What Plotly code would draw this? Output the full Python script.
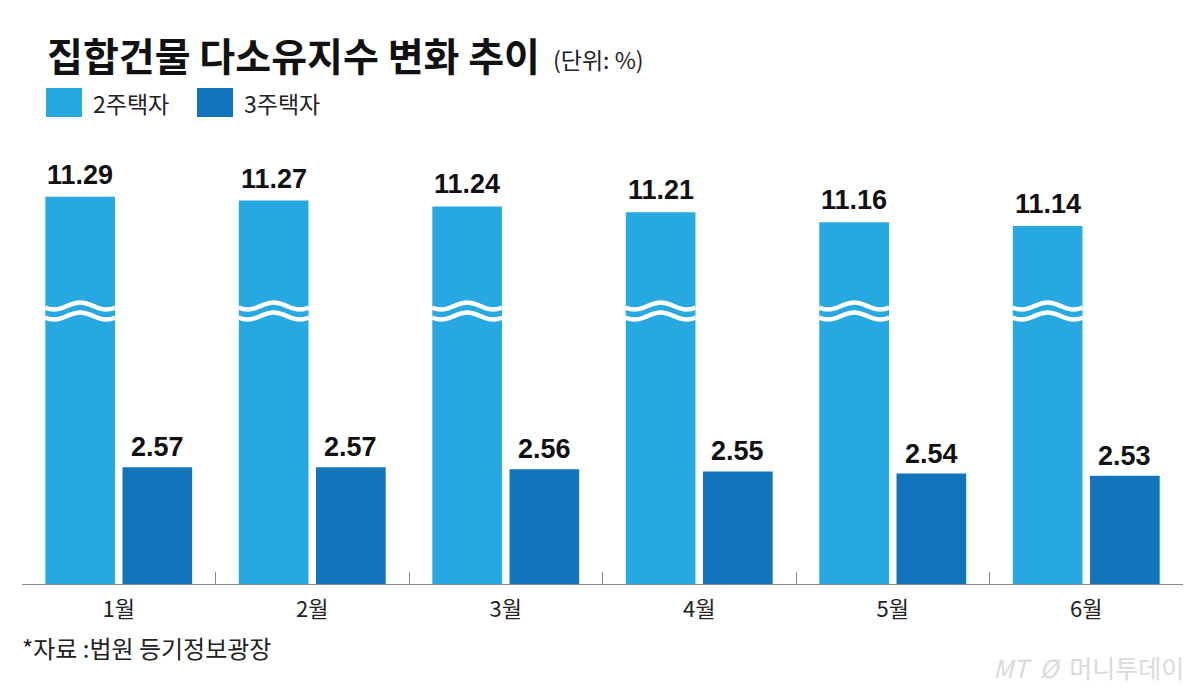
import numpy as np
import plotly.graph_objects as go

# 데이터
months = ["1월", "2월", "3월", "4월", "5월", "6월"]
two_homes = [11.29, 11.27, 11.24, 11.21, 11.16, 11.14]
three_homes = [2.57, 2.57, 2.56, 2.55, 2.54, 2.53]
series_names = ["2주택자", "3주택자"]
colors = ["#27A8E0", "#1275BB"]

title_text = "집합건물 다소유지수 변화 추이"
unit_text = "(단위: %)"
source_text = "*자료 :법원 등기정보광장"

# 캔버스 / 플롯 영역 (화면 픽셀 기준, 페이지 body 여백 8px 보정)
FW, FH = 1200, 694
OFF = 8
PL, PR, PT, PB = 22, 1183, 140, 584  # 화면상 플롯 영역
L = PL - OFF
T = PT - OFF
R = FW - (PR - OFF)
B = FH - (PB - OFF)
W = FW - L - R
H = FH - T - B


def px(x):
    return (x - PL) / W


def py(y):
    return (PB - y) / H


KOR = "Noto Sans CJK KR"
bar_w = 0.36
off_a = -0.3795
off_b = 0.0195

fig = go.Figure()
fig.add_trace(go.Bar(
    x=months, y=two_homes, name=series_names[0], yaxis="y",
    width=bar_w, offset=off_a, marker=dict(color=colors[0], line=dict(width=0)),
    showlegend=False,
))
fig.add_trace(go.Bar(
    x=months, y=three_homes, name=series_names[1], yaxis="y2",
    width=bar_w, offset=off_b, marker=dict(color=colors[1], line=dict(width=0)),
    showlegend=False,
))

annotations = []
# 값 라벨
for i, v in enumerate(two_homes):
    annotations.append(dict(
        x=i + off_a + bar_w / 2, y=v, xref="x", yref="y", text=f"{v:.2f}",
        showarrow=False, yanchor="bottom", yshift=5,
        font=dict(family="Liberation Sans", size=27, color="#111111", weight="bold"),
    ))
for i, v in enumerate(three_homes):
    annotations.append(dict(
        x=i + off_b + bar_w / 2, y=v, xref="x", yref="y2", text=f"{v:.2f}",
        showarrow=False, yanchor="bottom", yshift=3,
        font=dict(family="Liberation Sans", size=27, color="#111111", weight="bold"),
    ))

# 제목
annotations.append(dict(
    x=px(45), y=py(54), xref="paper", yref="paper", text=f"<b>{title_text}</b>",
    showarrow=False, xanchor="left", yanchor="middle",
    font=dict(family=KOR, size=39, color="#111111", weight=900),
))
annotations.append(dict(
    x=px(551), y=py(59), xref="paper", yref="paper", text=unit_text,
    showarrow=False, xanchor="left", yanchor="middle",
    font=dict(family=KOR, size=23, color="#222222"),
))

# 범례 (수동)
shapes = []
legend_x = [46, 197]
for k, name in enumerate(series_names):
    x0 = legend_x[k]
    shapes.append(dict(
        type="rect", xref="paper", yref="paper",
        x0=px(x0), x1=px(x0 + 36), y0=py(117), y1=py(88),
        fillcolor=colors[k], line=dict(width=0),
    ))
    annotations.append(dict(
        x=px(x0 + 45), y=py(103), xref="paper", yref="paper", text=name,
        showarrow=False, xanchor="left", yanchor="middle",
        font=dict(family=KOR, size=23, color="#222222"),
    ))

# 출처 / 로고
annotations.append(dict(
    x=px(20), y=py(647), xref="paper", yref="paper", text=source_text,
    showarrow=False, xanchor="left", yanchor="middle",
    font=dict(family=KOR, size=24, color="#222222"),
))
annotations.append(dict(
    x=px(1186), y=py(667), xref="paper", yref="paper",
    text="<i>MT</i>  <i>Ø</i>  머니투데이",
    showarrow=False, xanchor="right", yanchor="middle",
    font=dict(family=KOR, size=25, color="#dadada"),
))

# 생략 물결선 (2주택자 막대)
y_lo = 9.309
y_per_px = 1 / 195.5
for i in range(len(months)):
    xa = i + off_a
    xb = xa + bar_w
    xc = (xa + xb) / 2
    xs = np.linspace(xa, xb, 48)
    for centre_px in (306, 316):
        c = y_lo + (PB - centre_px) * y_per_px
        amp = 3.4 * y_per_px
        ys = c + amp * np.cos(2 * np.pi * (xs - xc) / 0.27)
        path = "M " + " L ".join(f"{a:.4f},{b:.5f}" for a, b in zip(xs, ys))
        shapes.append(dict(
            type="path", xref="x", yref="y", path=path,
            line=dict(color="white", width=4.5), layer="above",
        ))

fig.update_layout(
    width=FW, height=FH,
    margin=dict(l=L, r=R, t=T, b=B, pad=0),
    paper_bgcolor="white", plot_bgcolor="white",
    barmode="overlay",
    xaxis=dict(
        type="category", range=[-0.5, 5.5], showgrid=False, zeroline=False,
        showline=True, linecolor="#8a8a8a", linewidth=1.2,
        ticks="inside", tickson="boundaries", ticklen=12, tickwidth=1.2, tickcolor="#8a8a8a",
        tickfont=dict(family=KOR, size=22, color="#222222"),
        ticklabelstandoff=5,
    ),
    yaxis=dict(range=[y_lo, y_lo + H * y_per_px], visible=False, fixedrange=True),
    yaxis2=dict(range=[2.014, 2.014 + H / 210], visible=False, overlaying="y", fixedrange=True),
    annotations=annotations,
    shapes=shapes,
)

fig.write_html("out.html")
